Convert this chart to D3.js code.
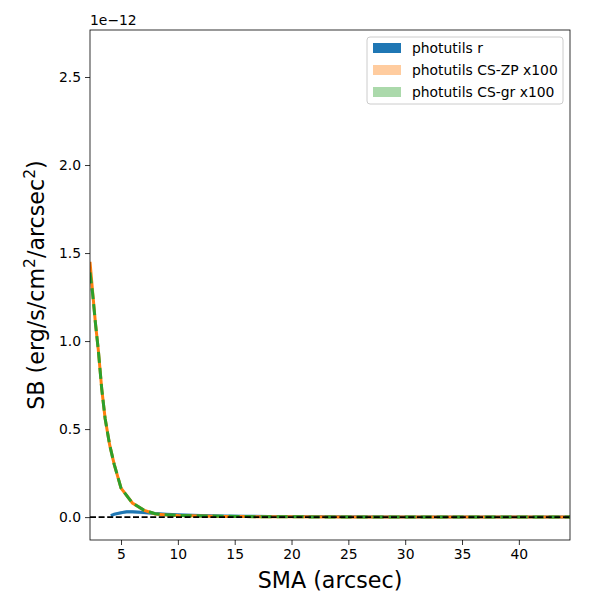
<!DOCTYPE html>
<html><head><meta charset="utf-8">
<script src="https://cdn.jsdelivr.net/npm/d3@7"></script>
<style>body{margin:0;background:#fff}svg{display:block}text{font-family:"DejaVu Sans",sans-serif}</style>
</head><body><svg id="c" width="600" height="600"></svg>
<script>
// values in units of 1e-12 erg/s/cm^2/arcsec^2
const smaCS = [2.27, 2.5, 2.75, 3.0, 3.3, 3.6, 4.0, 4.4, 5.0, 6.0, 7.0, 8.0, 9.0, 10, 12, 14, 16, 18, 20, 25, 30, 35, 40, 44.5];
const csZP  = [1.45, 1.28, 1.10, 0.95, 0.73, 0.56, 0.41, 0.30, 0.165, 0.08, 0.04, 0.018, 0.012, 0.009, 0.006, 0.004, 0.003, 0.002, 0.0015, 0.001, 0.0005, 0.0003, 0.0002, 0.0001];
const csGR  = [1.39, 1.27, 1.10, 0.95, 0.73, 0.56, 0.41, 0.30, 0.165, 0.08, 0.04, 0.019, 0.013, 0.010, 0.007, 0.005, 0.003, 0.002, 0.0015, 0.001, 0.0006, 0.0004, 0.0003, 0.0002];
const smaR  = [4.1, 4.4, 5.0, 5.5, 6.0, 7.0, 8.0, 9.0, 10, 12, 14, 16, 18, 20, 25, 30, 35, 40, 44.5];
const photR = [0.008, 0.016, 0.025, 0.030, 0.030, 0.026, 0.020, 0.016, 0.013, 0.009, 0.007, 0.005, 0.004, 0.003, 0.002, 0.001, 0.0008, 0.0005, 0.0003];
const xTicks = [5, 10, 15, 20, 25, 30, 35, 40];
const yTicks = [0.0, 0.5, 1.0, 1.5, 2.0, 2.5];
const legendLabels = ["photutils r", "photutils CS-ZP x100", "photutils CS-gr x100"];
const xDomain = [2.27, 44.5];
const yDomain = [-0.13, 2.767];

const svg = d3.select("#c");
const L = 90, R = 570, T = 30, B = 540;
const x = d3.scaleLinear().domain(xDomain).range([L, R]);
const y = d3.scaleLinear().domain(yDomain).range([B, T]);

svg.append("defs").append("clipPath").attr("id","cp")
  .append("rect").attr("x",L).attr("y",T).attr("width",R-L).attr("height",B-T);
const g = svg.append("g").attr("clip-path","url(#cp)");

const line = (xs) => d3.line().x((d,i)=>x(xs[i])).y(d=>y(d));
const area = (xs, f) => d3.area().x((d,i)=>x(xs[i])).y0(d=>y(d*(1-f))).y1(d=>y(d*(1+f)));
g.append("path").datum(photR).attr("d", area(smaR,0.35)).attr("fill","#1f77b4").attr("opacity",0.35);

g.append("path").datum(photR).attr("d", line(smaR)).attr("fill","none").attr("stroke","#1f77b4").attr("stroke-width",3);
g.append("path").datum(csZP).attr("d", line(smaCS)).attr("fill","none").attr("stroke","#ff7f0e").attr("stroke-width",3);
g.append("path").datum(csGR).attr("d", line(smaCS)).attr("fill","none").attr("stroke","#2ca02c").attr("stroke-width",3).attr("stroke-dasharray","11,5");
g.append("line").attr("x1",L).attr("x2",R).attr("y1",y(0)).attr("y2",y(0))
  .attr("stroke","#000").attr("stroke-width",1.8).attr("stroke-dasharray","6,2.6");

const xa = svg.append("g").attr("transform",`translate(0,${B})`)
  .call(d3.axisBottom(x).tickValues(xTicks).tickSize(5).tickPadding(4).tickFormat(d3.format("d")));
const ya = svg.append("g").attr("transform",`translate(${L},0)`)
  .call(d3.axisLeft(y).tickValues(yTicks).tickSize(5).tickPadding(4).tickFormat(d3.format(".1f")));
[xa, ya].forEach(a => {
  a.select(".domain").remove();
  a.selectAll("text").attr("font-size","13.9px").attr("fill","#000").attr("font-family","DejaVu Sans");
  a.selectAll("line").attr("stroke","#000").attr("stroke-width",0.8);
});
svg.append("rect").attr("x",L).attr("y",T).attr("width",R-L).attr("height",B-T)
  .attr("fill","none").attr("stroke","#000").attr("stroke-width",0.8);

svg.append("text").attr("x",L).attr("y",25).attr("font-size","13.9px").text("1e\u221212");

svg.append("text").attr("x",(L+R)/2).attr("y",588).attr("text-anchor","middle")
  .attr("font-size","22.2px").text("SMA (arcsec)");
const yl = svg.append("text").attr("transform",`translate(44,${(T+B)/2}) rotate(-90)`)
  .attr("text-anchor","middle").attr("font-size","22.2px");
yl.append("tspan").text("SB (erg/s/cm");
yl.append("tspan").attr("baseline-shift","super").attr("font-size","15.5px").text("2");
yl.append("tspan").text("/arcsec");
yl.append("tspan").attr("baseline-shift","super").attr("font-size","15.5px").text("2");
yl.append("tspan").text(")");

const lg = svg.append("g");
lg.append("rect").attr("x",367).attr("y",37).attr("width",196).attr("height",67).attr("rx",3)
  .attr("fill","#fff").attr("fill-opacity",0.8).attr("stroke","#ccc").attr("stroke-width",1);
const lcols = [["#1f77b4",1],["#ff7f0e",0.4],["#2ca02c",0.4]];
legendLabels.forEach((t,i)=>{
  const yy = 48 + i*22;
  lg.append("rect").attr("x",373).attr("y",yy-5).attr("width",28).attr("height",10)
    .attr("fill",lcols[i][0]).attr("fill-opacity",lcols[i][1]);
  lg.append("text").attr("x",412).attr("y",yy+5).attr("font-size","13.9px").text(t);
});
</script></body></html>
